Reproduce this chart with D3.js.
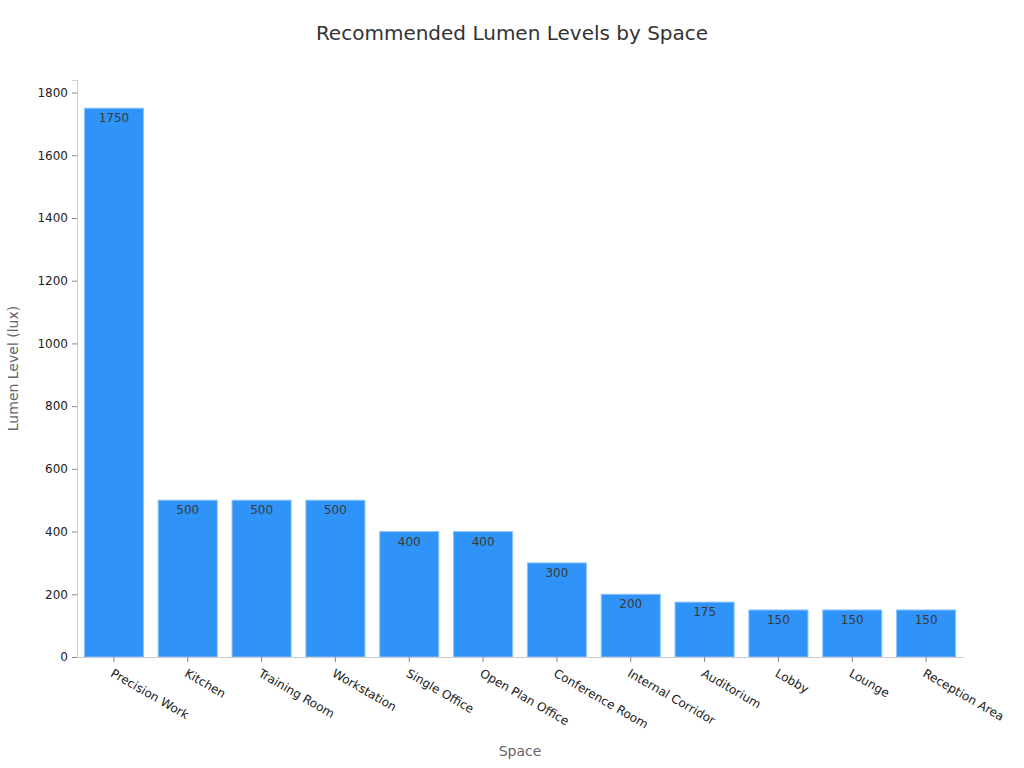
<!DOCTYPE html>
<html>
<head>
<meta charset="utf-8">
<script src="https://cdn.jsdelivr.net/npm/d3@7"></script>
<style>
  body { margin: 0; background: #fff; }
  text { font-family: "DejaVu Sans", sans-serif; }
</style>
</head>
<body>
<script>
const spaces = ["Precision Work", "Kitchen", "Training Room", "Workstation", "Single Office",
    "Open Plan Office", "Conference Room", "Internal Corridor", "Auditorium", "Lobby", "Lounge", "Reception Area"];
const lux = [1750, 500, 500, 500, 400, 400, 300, 200, 175, 150, 150, 150];
const yTicks = [0, 200, 400, 600, 800, 1000, 1200, 1400, 1600, 1800];

const width = 1024, height = 768;
const margin = {top: 80, right: 61, bottom: 111, left: 77};

let svg = d3.select("body").append("svg")
    .attr("width", width).attr("height", height);

const x = d3.scaleBand()
    .domain(spaces)
    .range([margin.left, width - margin.right])
    .paddingInner(0.2)
    .paddingOuter(0.1);

const y = d3.scaleLinear()
    .domain([0, 1840])
    .range([height - margin.bottom, margin.top]);

svg.append("text")
    .attr("x", 512).attr("y", 40)
    .attr("text-anchor", "middle")
    .attr("font-size", 20)
    .attr("fill", "#333")
    .text("Recommended Lumen Levels by Space");

// bars
let rows = spaces.map((s, i) => ({space: s, value: lux[i]}));

svg.selectAll(".bar")
    .data(rows)
    .enter()
    .append("rect")
    .attr("class", "bar")
    .attr("x", d => x(d.space))
    .attr("y", d => y(d.value))
    .attr("width", x.bandwidth())
    .attr("height", d => y(0) - y(d.value))
    .attr("fill", "#2f93f7")
    .attr("stroke", "#8cc4fa")
    .attr("stroke-width", 1);

svg.selectAll(".lbl")
    .data(rows)
    .enter()
    .append("text")
    .attr("class", "lbl")
    .attr("x", d => x(d.space) + x.bandwidth() / 2)
    .attr("y", d => y(d.value) + 14)
    .attr("text-anchor", "middle")
    .attr("font-size", 12)
    .attr("fill", "#3a3a3a")
    .text(d => d.value);

// axes
let gy = svg.append("g")
    .attr("transform", `translate(${margin.left},0)`)
    .call(d3.axisLeft(y).tickValues(yTicks).tickFormat(d3.format("d")).tickSize(5).tickPadding(4));
gy.select(".domain").attr("stroke", "#ccc");
gy.selectAll(".tick line").attr("stroke", "#888");
gy.selectAll(".tick text").attr("font-size", 12).attr("fill", "#222")
    .attr("font-family", "DejaVu Sans, sans-serif");

let gx = svg.append("g")
    .attr("transform", `translate(0,${height - margin.bottom})`)
    .call(d3.axisBottom(x).tickSize(5).tickSizeOuter(0));
gx.select(".domain").attr("stroke", "#ccc");
gx.selectAll(".tick line").attr("stroke", "#888");
gx.selectAll(".tick text")
    .attr("font-size", 12).attr("fill", "#222")
    .attr("font-family", "DejaVu Sans, sans-serif")
    .attr("text-anchor", "start")
    .attr("dy", "0.35em")
    .attr("transform", "translate(-2,15) rotate(30)")
    .attr("x", 0).attr("y", 0);

svg.append("text")
    .attr("transform", `translate(18,${(margin.top + height - margin.bottom) / 2}) rotate(-90)`)
    .attr("text-anchor", "middle")
    .attr("font-size", 14)
    .attr("fill", "#666")
    .text("Lumen Level (lux)");

svg.append("text")
    .attr("x", (margin.left + width - margin.right) / 2)
    .attr("y", 756)
    .attr("text-anchor", "middle")
    .attr("font-size", 14)
    .attr("fill", "#666")
    .text("Space");
</script>
</body>
</html>
